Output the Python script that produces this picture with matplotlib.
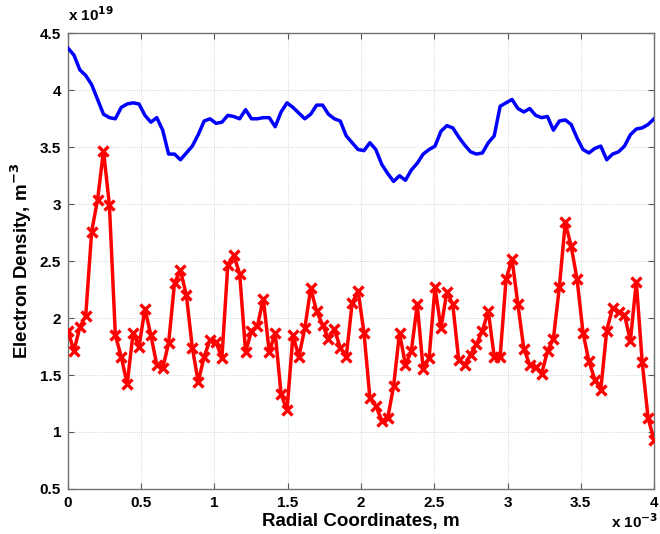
import numpy as np
import matplotlib
matplotlib.use("Agg")
import matplotlib.pyplot as plt

plt.rcParams["font.family"] = ["Liberation Sans", "DejaVu Sans"]
plt.rcParams["font.weight"] = "bold"

# radial grid, in units of 1e-3 m (100 samples over 0..4 mm)
r_mm = np.linspace(0, 4, 100)

# electron density, in units of 1e19 m^-3
ne_blue = [
    4.37, 4.31, 4.18, 4.13, 4.05, 3.92, 3.79, 3.76, 3.75, 3.85,
    3.88, 3.89, 3.88, 3.78, 3.72, 3.76, 3.65, 3.44, 3.44, 3.39,
    3.45, 3.51, 3.61, 3.73, 3.75, 3.71, 3.72, 3.78, 3.77, 3.75,
    3.83, 3.75, 3.75, 3.76, 3.76, 3.68, 3.81, 3.89, 3.85, 3.80,
    3.75, 3.79, 3.87, 3.87, 3.79, 3.75, 3.73, 3.60, 3.54, 3.48,
    3.47, 3.54, 3.48, 3.35, 3.27, 3.20, 3.25, 3.21, 3.30, 3.36,
    3.44, 3.48, 3.51, 3.64, 3.69, 3.67, 3.59, 3.52, 3.46, 3.44,
    3.45, 3.54, 3.60, 3.86, 3.89, 3.92, 3.84, 3.81, 3.84, 3.78,
    3.76, 3.77, 3.65, 3.73, 3.74, 3.70, 3.58, 3.48, 3.45, 3.49,
    3.51, 3.39, 3.44, 3.46, 3.51, 3.61, 3.66, 3.67, 3.70, 3.75,
]
ne_red = [
    1.89, 1.71, 1.92, 2.02, 2.76, 3.04, 3.47, 2.99, 1.85, 1.66,
    1.42, 1.87, 1.75, 2.08, 1.85, 1.59, 1.56, 1.78, 2.31, 2.42,
    2.20, 1.74, 1.44, 1.66, 1.81, 1.79, 1.65, 2.47, 2.55, 2.39,
    1.70, 1.89, 1.93, 2.17, 1.70, 1.87, 1.33, 1.19, 1.85, 1.66,
    1.91, 2.26, 2.06, 1.94, 1.82, 1.90, 1.74, 1.66, 2.13, 2.24,
    1.87, 1.30, 1.23, 1.10, 1.12, 1.40, 1.87, 1.59, 1.71, 2.12,
    1.55, 1.65, 2.27, 1.91, 2.23, 2.12, 1.63, 1.59, 1.68, 1.77,
    1.89, 2.06, 1.66, 1.66, 2.34, 2.52, 2.12, 1.73, 1.59, 1.57,
    1.51, 1.71, 1.82, 2.27, 2.84, 2.63, 2.34, 1.87, 1.62, 1.46,
    1.37, 1.89, 2.09, 2.05, 2.03, 1.80, 2.32, 1.61, 1.12, 0.93,
]

x_ticks = [0, 0.5, 1, 1.5, 2, 2.5, 3, 3.5, 4]
y_ticks = [0.5, 1, 1.5, 2, 2.5, 3, 3.5, 4, 4.5]

fig = plt.figure(figsize=(6.6, 5.34), dpi=100)
ax = fig.add_axes([0.103, 0.0845, 0.888, 0.853])

ax.plot(r_mm, ne_blue, color="#0000ff", lw=2.5, zorder=3)
ax.plot(r_mm, ne_red, color="#ff0000", lw=2.5, marker="x", ms=6.5,
        mew=2.4, zorder=3)

ax.set_xlim(0, 4)
ax.set_ylim(0.5, 4.5)
ax.set_xticks(x_ticks)
ax.set_yticks(y_ticks)
ax.set_xticklabels([f"{t:g}" for t in x_ticks], fontsize=11, fontweight="bold")
ax.set_yticklabels([f"{t:g}" for t in y_ticks], fontsize=11, fontweight="bold")
ax.tick_params(direction="in", length=4, width=0.8, color="#555555",
               top=True, right=True, pad=5)
ax.grid(True, ls=":", lw=0.6, color="#c8c8c8")
for s in ax.spines.values():
    s.set_color("#707070")
    s.set_linewidth(1.0)

ax.set_xlabel("Radial Coordinates, m", fontsize=13.5, fontweight="bold",
              labelpad=2)
ax.set_ylabel("Electron Density, m$^{\\mathbf{-3}}$", fontsize=13.5,
              fontweight="bold", labelpad=4)

# MATLAB-style exponent labels
fig.text(0.103, 0.955, "x 10$^{\\mathbf{19}}$", fontsize=11,
         fontweight="bold", ha="left", va="bottom")
fig.text(0.997, 0.006, "x 10$^{\\mathbf{-3}}$", fontsize=11,
         fontweight="bold", ha="right", va="bottom")

fig.savefig("out.png", dpi=100)
